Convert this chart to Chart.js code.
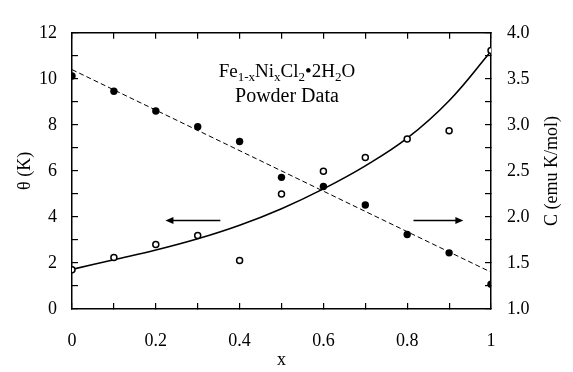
<!DOCTYPE html>
<html>
<head>
<meta charset="utf-8">
<script src="https://cdn.jsdelivr.net/npm/chart.js@4.4.1/dist/chart.umd.min.js"></script>
<style>
  html, body { margin: 0; padding: 0; background: #fff; }
  canvas { display: block; }
</style>
</head>
<body>
<canvas id="chart" width="573" height="372"></canvas>
<script>
// Ni fraction x
const xValues = [0, 0.1, 0.2, 0.3, 0.4, 0.5, 0.6, 0.7, 0.8, 0.9, 1.0];
// theta (K), open circles, left axis
const thetaData = [1.70, 2.24, 2.80, 3.19, 2.11, 5.00, 5.98, 6.58, 7.39, 7.74, 11.23];
// Curie constant C (emu K/mol), filled circles, right axis
const curieData = [3.53, 3.365, 3.15, 2.98, 2.82, 2.43, 2.33, 2.13, 1.81, 1.61, 1.27];
// fit curves
const thetaFit = [1.72, 2.14, 2.56, 3.05, 3.64, 4.36, 5.22, 6.22, 7.42, 9.05, 11.2];
const curieFitX = [0, 1];
const curieFit = [3.60, 1.40];

const serif = '"Liberation Serif", "Times New Roman", serif';
const tickFont = { family: serif, size: 18 };

const pairs = (xs, ys) => xs.map((v, i) => ({ x: v, y: ys[i] }));

function inwardGrid() {
  return { drawOnChartArea: false, drawTicks: true, tickLength: -6, color: '#000', lineWidth: 1.2 };
}
const border = { display: true, color: '#000', width: 1.5 };

const annotations = {
  id: 'annotations',
  afterDatasetsDraw(chart) {
    const { ctx, scales: { x, y, y2 } } = chart;
    ctx.save();
    ctx.fillStyle = '#000';
    ctx.strokeStyle = '#000';

    // compound name with subscripts
    const parts = [['Fe', 0], ['1-x', 1], ['Ni', 0], ['x', 1], ['Cl', 0], ['2', 1], ['\u2022', 0], ['2H', 0], ['2', 1], ['O', 0]];
    const mainFont = '19px ' + serif;
    const subFont = '13px ' + serif;
    let total = 0;
    parts.forEach(([t, sub]) => { ctx.font = sub ? subFont : mainFont; total += ctx.measureText(t).width; });
    let px = x.getPixelForValue(0.513) - total / 2;
    const base = y.getPixelForValue(10.1);
    ctx.textBaseline = 'alphabetic';
    ctx.textAlign = 'left';
    parts.forEach(([t, sub]) => {
      ctx.font = sub ? subFont : mainFont;
      ctx.fillText(t, px, sub ? base + 4 : base);
      px += ctx.measureText(t).width;
    });
    ctx.font = '20px ' + serif;
    ctx.textAlign = 'center';
    ctx.fillText('Powder Data', x.getPixelForValue(0.513), y.getPixelForValue(9.0));

    // arrows pointing to the matching axis
    const arrow = (x0, x1, yv) => {
      const ax = x.getPixelForValue(x0), bx = x.getPixelForValue(x1), py = y.getPixelForValue(yv);
      const dir = Math.sign(bx - ax);
      ctx.lineWidth = 1.5;
      ctx.beginPath();
      ctx.moveTo(ax, py);
      ctx.lineTo(bx - dir * 6, py);
      ctx.stroke();
      ctx.beginPath();
      ctx.moveTo(bx, py);
      ctx.lineTo(bx - dir * 8, py - 3.5);
      ctx.lineTo(bx - dir * 8, py + 3.5);
      ctx.closePath();
      ctx.fill();
    };
    arrow(0.354, 0.223, 3.85);
    arrow(0.815, 0.934, 3.85);

    // right axis title, reading upward
    ctx.font = '18px ' + serif;
    ctx.textAlign = 'center';
    ctx.textBaseline = 'middle';
    ctx.translate(y2.right - 21, (y2.top + y2.bottom) / 2);
    ctx.rotate(-Math.PI / 2);
    ctx.fillText('C (emu K/mol)', 0, 0);
    ctx.restore();
  }
};

new Chart(document.getElementById('chart'), {
  type: 'scatter',
  data: {
    datasets: [
      {
        label: 'theta',
        data: pairs(xValues, thetaData),
        yAxisID: 'y',
        pointStyle: 'circle',
        pointRadius: 3,
        pointBorderWidth: 1.5,
        pointBackgroundColor: '#fff',
        pointBorderColor: '#000',
        order: 1
      },
      {
        label: 'C',
        data: pairs(xValues, curieData),
        yAxisID: 'y2',
        pointStyle: 'circle',
        pointRadius: 3.7,
        pointBorderWidth: 0,
        pointBackgroundColor: '#000',
        pointBorderColor: '#000',
        order: 1
      },
      {
        label: 'theta fit',
        data: pairs(xValues, thetaFit),
        yAxisID: 'y',
        showLine: true,
        pointRadius: 0,
        borderColor: '#000',
        borderWidth: 1.6,
        tension: 0.4,
        order: 2
      },
      {
        label: 'C fit',
        data: pairs(curieFitX, curieFit),
        yAxisID: 'y2',
        showLine: true,
        pointRadius: 0,
        borderColor: '#000',
        borderWidth: 1,
        borderDash: [5, 3],
        order: 2
      }
    ]
  },
  options: {
    responsive: false,
    animation: false,
    layout: { padding: 0 },
    plugins: { legend: { display: false }, tooltip: { enabled: false } },
    scales: {
      x: {
        type: 'linear', position: 'bottom', min: 0, max: 1,
        ticks: {
          stepSize: 0.1, padding: 27, color: '#000', font: tickFont, maxRotation: 0, autoSkip: false,
          callback: (v, i) => i % 2 ? '' : String(Math.round(v * 10) / 10)
        },
        grid: inwardGrid(), border,
        title: { display: true, text: 'x', color: '#000', font: { family: serif, size: 18 }, padding: { top: 0, bottom: 1 } },
        afterFit: s => { s.height = 63; }
      },
      xTop: {
        type: 'linear', position: 'top', min: 0, max: 1,
        ticks: { stepSize: 0.1, display: false, autoSkip: false },
        grid: inwardGrid(), border,
        afterFit: s => { s.height = 13; }
      },
      y: {
        type: 'linear', position: 'left', min: 0, max: 12,
        ticks: {
          stepSize: 1, padding: 21, color: '#000', font: tickFont, autoSkip: false,
          callback: v => v % 2 === 0 ? String(v) : ''
        },
        grid: inwardGrid(), border,
        title: { display: true, text: '\u03b8 (K)', color: '#000', font: { family: serif, size: 18 }, padding: { top: 14, bottom: 0 } },
        afterFit: s => { s.width = 72; }
      },
      y2: {
        type: 'linear', position: 'right', min: 1, max: 4,
        ticks: {
          stepSize: 0.25, padding: 22, color: '#000', font: tickFont, autoSkip: false,
          callback: v => Math.abs(v * 2 - Math.round(v * 2)) < 1e-6 ? v.toFixed(1) : ''
        },
        grid: inwardGrid(), border,
        afterFit: s => { s.width = 82; }
      }
    }
  },
  plugins: [annotations]
});
</script>
</body>
</html>
